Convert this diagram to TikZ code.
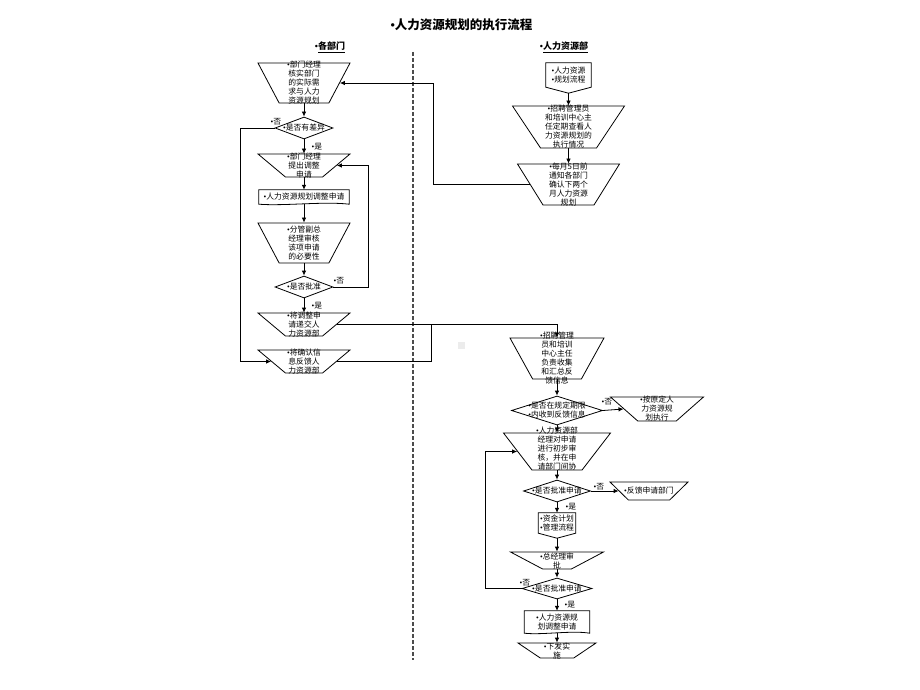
\documentclass[tikz,border=0pt]{standalone}
\usepackage{fontspec}
\setmainfont{Noto Sans CJK SC}
\newfontfamily\bulfont{Liberation Serif}
\newcommand{\bul}{{\bulfont •}}
\usetikzlibrary{shapes.geometric, arrows.meta, positioning}

\begin{document}
\begin{tikzpicture}[
        x=1pt, y=-1pt,
        every node/.style={font=\fontsize{7.8}{9}\selectfont, text=black, align=center, inner sep=0pt},
        txt/.style={font=\fontsize{7.8}{9}\selectfont, align=center, inner sep=0pt},
        manop/.style={trapezium, draw, line width=0.8pt, inner sep=1pt, trapezium stretches=true,
            trapezium left angle=#1, trapezium right angle=#1},
        decision/.style={diamond, draw, line width=0.8pt, inner sep=1pt},
        plainbox/.style={rectangle},
        flowline/.style={draw, line width=0.8pt},
        flowarrow/.style={flowline, -{Latex[length=5pt, width=4.5pt]}},
        header/.style={font=\bfseries\fontsize{9}{10}\selectfont},
        yesno/.style={font=\fontsize{7.8}{9}\selectfont}
    ]
        \def\colL{304}
        \def\colT{568.5}
        \def\colR{557}

        \useasboundingbox (0,0) rectangle (920,690);

        % --- Titles ---
        \node[font=\bfseries\fontsize{12.5}{14}\selectfont] (title) at (461.5,25) {\bul{}人力资源规划的执行流程};
        \node[header] (laneL) at (330,47) {\bul{}\underline{各部门}};
        \node[header] (laneR) at (564,47) {\bul{}\underline{人力资源部}};

        % lane divider
        \draw[gray!60!black, line width=1.2pt, dash pattern=on 4pt off 2pt] (413,52) -- (413,660);
        \fill[gray!15] (458,342) rectangle (465,349);

        % --- Left lane ---
        \node[manop=113, minimum width=92, minimum height=40,
            label={[txt]center:{\bul{}部门经理\\核实部门\\的实际需\\求与人力\\资源规划}}] (a1) at (\colL,83) {};
        \node[decision, minimum width=58, minimum height=22,
            label={[txt]center:{\bul{}是否有差异}}] (d1) at (\colL,128) {};
        \node[manop=126.5, minimum width=92, minimum height=23,
            label={[txt]center:{\bul{}部门经理\\提出调整\\申请}}] (a2) at (\colL,165.5) {};
        \node[plainbox, minimum width=90, minimum height=14] (b1) at (\colL,197) {\bul{}人力资源规划调整申请};
        \node[manop=113, minimum width=92, minimum height=40,
            label={[txt]center:{\bul{}分管副总\\经理审核\\该项申请\\的必要性}}] (a3) at (\colL,243) {};
        \node[decision, minimum width=58, minimum height=22,
            label={[txt]center:{\bul{}是否批准}}] (d2) at (\colL,287) {};
        \node[manop=126.5, minimum width=92, minimum height=23,
            label={[txt]center:{\bul{}将调整申\\请递交人\\力资源部}}] (a4) at (\colL,324.5) {};
        \node[manop=126.5, minimum width=92, minimum height=23,
            label={[txt]center:{\bul{}将确认信\\息反馈人\\力资源部}}] (a6) at (\colL,361.5) {};
        \coordinate (join) at (431,324.5);

        % document shape
        \draw[flowline] (b1.north west) -- (b1.south west)
            .. controls ([xshift=25pt, yshift=-2pt]b1.south west) and ([xshift=-25pt, yshift=3pt]b1.south east) .. (b1.south east)
            -- (b1.north east) -- cycle;

        % --- Right lane, top ---
        \node[plainbox, minimum width=45, minimum height=24] (r1) at (\colT,75) {\bul{}人力资源\\\bul{}规划流程};
        \coordinate[below=6pt of r1.south] (r1tip);
        \draw[flowline] (r1.south west) -- (r1.north west) -- (r1.north east) -- (r1.south east) -- (r1tip) -- cycle;
        \node[manop=116.6, minimum width=112, minimum height=42,
            label={[txt]center:{\bul{}招聘管理员\\和培训中心主\\任定期查看人\\力资源规划的\\执行情况}}] (r2) at (\colT,127) {};
        \node[manop=116.6, minimum width=102, minimum height=41,
            label={[txt]center:{\bul{}每月5日前\\通知各部门\\确认下两个\\月人力资源\\规划}}] (r3) at (\colT,184.5) {};

        % --- Right lane, bottom ---
        \node[manop=114.9, minimum width=94, minimum height=41,
            label={[txt]center:{\bul{}招聘管理\\员和培训\\中心主任\\负责收集\\和汇总反\\馈信息}}] (r4) at (\colR,358.5) {};
        \node[decision, minimum width=91, minimum height=29,
            label={[txt]center:{\bul{}是否在规定期限\\\bul{}内收到反馈信息}}] (d3) at (\colR,410.5) {};
        \node[manop=125.3, minimum width=93, minimum height=24,
            label={[txt]center:{\bul{}按原定人\\力资源规\\划执行}}] (r5) at (657,409) {};
        \node[manop=119.6, minimum width=107, minimum height=37,
            label={[txt, yshift=3pt]center:{\bul{}人力资源部\\经理对申请\\进行初步审\\核，并在申\\请部门间协}}] (r6) at (\colR,451.5) {};
        \node[decision, minimum width=67, minimum height=22,
            label={[txt]center:{\bul{}是否批准申请}}] (d4) at (\colR,491) {};
        \node[manop=114, minimum width=78, minimum height=18,
            label={[txt]center:{\bul{}反馈申请部门}}] (r7) at (649,491) {};
        \node[plainbox, minimum width=37, minimum height=20] (r8) at (\colR,523) {\bul{}资金计划\\\bul{}管理流程};
        \coordinate[below=5pt of r8.south] (r8tip);
        \draw[flowline] (r8.south west) -- (r8.north west) -- (r8.north east) -- (r8.south east) -- (r8tip) -- cycle;
        \node[manop=138.2, minimum width=93, minimum height=17,
            label={[txt]center:{\bul{}总经理审\\批}}] (r9) at (\colR,560.5) {};
        \node[decision, minimum width=70, minimum height=21,
            label={[txt]center:{\bul{}是否批准申请}}] (d5) at (\colR,588.5) {};
        \node[plainbox, minimum width=65, minimum height=22] (r10) at (\colR,622) {\bul{}人力资源规\\划调整申请};
        \draw[flowline] (r10.north west) -- (r10.south west)
            .. controls ([xshift=18pt, yshift=-2pt]r10.south west) and ([xshift=-18pt, yshift=3pt]r10.south east) .. (r10.south east)
            -- (r10.north east) -- cycle;
        \node[manop=123.7, minimum width=78, minimum height=15,
            label={[txt]center:{\bul{}下发实\\施}}] (r11) at (\colR,650.5) {};

        % --- yes / no labels ---
        \node[yesno] (no1) at (276,122) {\bul{}否};
        \node[yesno] (yes1) at (317,147) {\bul{}是};
        \node[yesno] (no2) at (339,281) {\bul{}否};
        \node[yesno] (yes2) at (317,306) {\bul{}是};
        \node[yesno] (no3) at (607,402) {\bul{}否};
        \node[yesno] (no4) at (599,487) {\bul{}否};
        \node[yesno] (yes4) at (571,507) {\bul{}是};
        \node[yesno] (no5) at (525,583) {\bul{}否};
        \node[yesno] (yes5) at (570,605) {\bul{}是};

        % --- Connectors, left lane ---
        \draw[flowarrow] (a1.south) -- (d1.north);
        \draw[flowarrow] (d1.south) -- (a2.north);
        \draw[flowarrow] (d1.west) -- ++(-34,0) |- (a6.west);
        \draw[flowarrow] (a2.south) -- (b1.north);
        \draw[flowarrow] (b1.south) -- (a3.north);
        \draw[flowarrow] (a3.south) -- (d2.north);
        \draw[flowarrow] (d2.south) -- (a4.north);
        \draw[flowarrow] (d2.east) -- ++(35,0) |- (a2.east);
        \draw[flowarrow] (a4.east) -| (r4.north);
        \draw[flowline] (a6.east) -| (join);

        % --- Connectors, right lane ---
        \draw[flowarrow] (r1tip) -- (r2.north);
        \draw[flowarrow] (r2.south) -- (r3.north);
        \draw[flowarrow] (r3.west) -- ++(-96,0) |- (a1.east);
        \draw[flowarrow] (r4.south) -- (d3.north);
        \draw[flowarrow] (d3.east) -- (r5.west);
        \draw[flowarrow] (d3.south) -- (r6.north);
        \draw[flowarrow] (r6.south) -- (d4.north);
        \draw[flowarrow] (d4.east) -- (r7.west);
        \draw[flowarrow] (d4.south) -- (r8.north);
        \draw[flowarrow] (r8tip) -- (r9.north);
        \draw[flowarrow] (r9.south) -- (d5.north);
        \draw[flowarrow] (d5.west) -- ++(-36,0) |- (r6.west);
        \draw[flowarrow] (d5.south) -- (r10.north);
        \draw[flowarrow] (r10.south) -- (r11.north);

    \end{tikzpicture}
\end{document}
